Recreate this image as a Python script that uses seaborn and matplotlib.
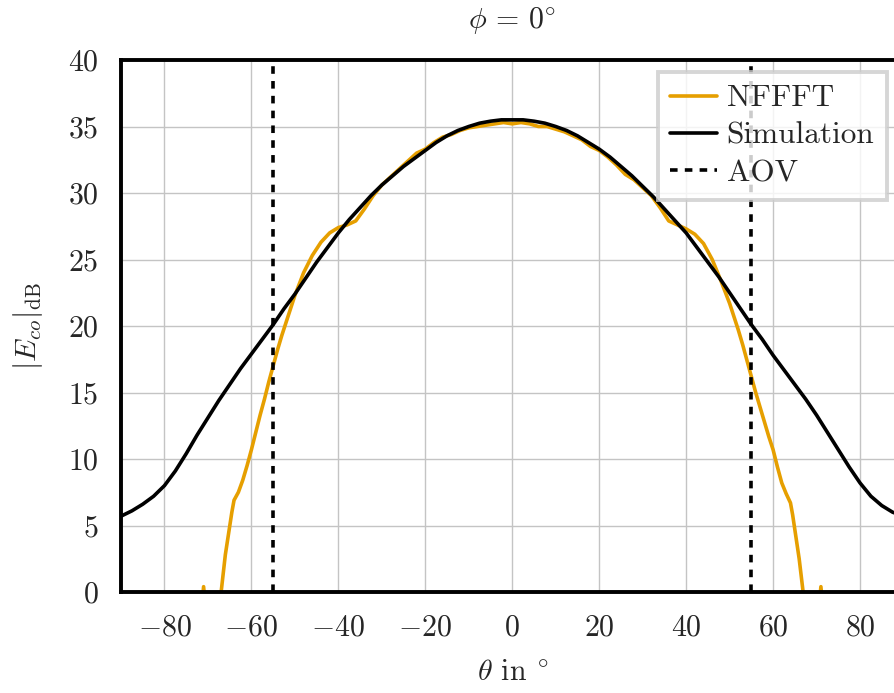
import matplotlib
matplotlib.use("Agg")
import matplotlib.pyplot as plt
import seaborn as sns

# simulated co-polar pattern (phi = 0)
sim_theta = [-90, -87.5, -85, -82.5, -80, -77.5, -75, -72.5, -70, -67.5, -65, -62.5, -60, -57.5, -55, -52.5,
             -50, -47.5, -45, -42.5, -40, -37.5, -35, -32.5, -30, -27.5, -25, -22.5, -20, -17.5, -15, -12.5,
             -10, -7.5, -5, -2.5, 0, 2.5, 5, 7.5, 10, 12.5, 15, 17.5, 20, 22.5, 25, 27.5, 30, 32.5, 35, 37.5,
             40, 42.5, 45, 47.5, 50, 52.5, 55, 57.5, 60, 62.5, 65, 67.5, 70, 72.5, 75, 77.5, 80, 82.5, 85,
             87.5, 90]
sim_db = [5.7, 6.1, 6.6, 7.2, 8.0, 9.1, 10.4, 11.8, 13.1, 14.4, 15.6, 16.8, 17.9, 19.0, 20.1, 21.3,
          22.4, 23.6, 24.8, 25.9, 27.0, 28.0, 28.9, 29.8, 30.6, 31.3, 32.0, 32.6, 33.2, 33.8, 34.3, 34.7,
          35.0, 35.25, 35.4, 35.5, 35.5, 35.5, 35.4, 35.25, 35.0, 34.7, 34.3, 33.8, 33.3, 32.7, 32.0, 31.3,
          30.5, 29.7, 28.8, 27.9, 27.0, 25.9, 24.8, 23.7, 22.5, 21.3, 20.1, 19.0, 17.8, 16.7, 15.6, 14.5,
          13.3, 12.0, 10.7, 9.4, 8.2, 7.2, 6.5, 6.0, 5.7]

# near-field to far-field transformed pattern
nfffT_theta = [-75, -72, -71, -70, -68, -66, -64.5, -64, -63, -62, -61, -60, -59, -58, -57, -56, -55, -54, -53,
               -52, -51, -50, -48, -46, -44, -42, -40, -38, -36, -34, -32, -30, -28, -26, -24, -22, -20, -18,
               -16, -14, -12, -10, -8, -6, -4, -2, 0, 2, 4, 6, 8, 10, 12, 14, 16, 18, 20, 22, 24, 26, 28, 30,
               32, 34, 36, 38, 40, 42, 44, 46, 48, 50, 51, 52, 53, 54, 55, 56, 57, 58, 59, 60, 61, 62, 63, 64,
               64.5, 66, 68, 70, 71, 72, 75]
nfffT_db = [-8, -3, 0.4, -3, -3, 2.8, 6.0, 6.9, 7.5, 8.4, 9.5, 10.7, 12.0, 13.3, 14.5, 15.8, 17.0, 18.2, 19.3,
            20.3, 21.3, 22.3, 24.0, 25.3, 26.3, 27.0, 27.4, 27.6, 27.9, 28.8, 29.8, 30.6, 31.2, 31.8, 32.4, 33.0,
            33.3, 33.8, 34.2, 34.4, 34.7, 34.9, 35.0, 35.1, 35.2, 35.3, 35.2, 35.3, 35.2, 35.0, 35.0, 34.8, 34.6,
            34.3, 34.0, 33.5, 33.2, 32.7, 32.1, 31.4, 31.0, 30.4, 29.8, 28.9, 27.9, 27.6, 27.3, 26.9, 26.2, 25.0,
            23.4, 21.7, 20.7, 19.7, 18.6, 17.4, 16.2, 15.0, 13.9, 12.8, 11.7, 10.7, 9.4, 8.2, 7.4, 6.7, 5.8, 2.5,
            -3, -3, 0.4, -3, -8]

aov = [-55, 55]
x_ticks = [-80, -60, -40, -20, 0, 20, 40, 60, 80]
y_ticks = [0, 5, 10, 15, 20, 25, 30, 35, 40]

sns.set_style("whitegrid", {"grid.color": "#c4c4c4", "axes.edgecolor": "black"})
plt.rcParams["font.family"] = "serif"
plt.rcParams["font.serif"] = ["cmr10", "DejaVu Serif"]
plt.rcParams["mathtext.fontset"] = "cm"
plt.rcParams["axes.formatter.use_mathtext"] = True
plt.rcParams["font.size"] = 21.5

fig = plt.figure(figsize=(8.94, 6.93), dpi=100)
ax = fig.add_axes([121 / 894, 101 / 693, 782.5 / 894, 532 / 693])

sns.lineplot(x=nfffT_theta, y=nfffT_db, color="#E69F00", lw=2.6, label="NFFFT", ax=ax)
sns.lineplot(x=sim_theta, y=sim_db, color="black", lw=2.6, label="Simulation", ax=ax)
for i, a in enumerate(aov):
    ax.axvline(a, color="black", lw=2.6, ls=(0, (2.1, 2.0)), label="AOV" if i == 0 else None)

ax.set_xlim(-90, 90)
ax.set_ylim(0, 40)
ax.set_xticks(x_ticks)
ax.set_yticks(y_ticks)
ax.grid(True, color="#c4c4c4", lw=1.0)
for s in ax.spines.values():
    s.set_linewidth(2.8)
    s.set_color("black")
ax.tick_params(axis="both", direction="out", length=8, width=2.8, color="black", pad=8, labelsize=21.5)

ax.set_title(r"$\phi\,=\,0^{\circ}$", pad=22, fontsize=21.5)
ax.set_xlabel(r"$\theta$ in $^{\circ}$", fontsize=21.5, labelpad=13)
ax.set_ylabel(r"$|E_{co}|_{\mathrm{dB}}$", fontsize=21.5, labelpad=17)

leg = ax.legend(loc="upper right", bbox_to_anchor=(0.9789, 0.9774), fontsize=22.5,
                handlelength=1.5, handletextpad=0.3, labelspacing=0.3, borderaxespad=0.0,
                fancybox=False, framealpha=0.8, borderpad=0.4)
leg.get_frame().set_edgecolor("#cccccc")
leg.get_frame().set_linewidth(2.8)

fig.savefig("out.png", dpi=100)
